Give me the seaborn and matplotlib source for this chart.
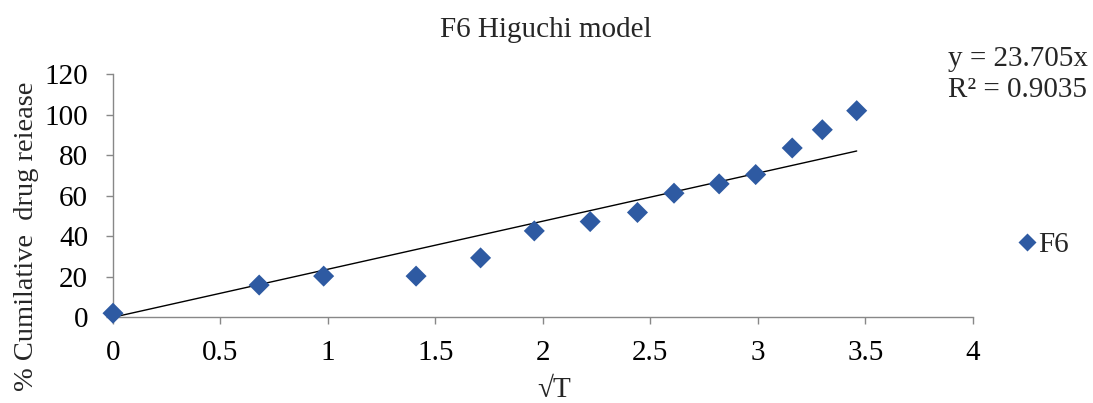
import matplotlib
matplotlib.use("Agg")
import matplotlib.pyplot as plt
import seaborn as sns
import numpy as np
import pandas as pd

# Data
sqrt_t = [0.0, 0.68, 0.98, 1.41, 1.71, 1.96, 2.22, 2.44, 2.61, 2.82, 2.99, 3.16, 3.30, 3.46]
release = [2.0, 15.9, 20.3, 20.3, 29.3, 42.6, 47.2, 51.7, 61.2, 65.8, 70.4, 83.5, 92.5, 101.9]
series_name = "F6"
slope = 23.705
r_squared = 0.9035
x_ticks = [0, 0.5, 1, 1.5, 2, 2.5, 3, 3.5, 4]
x_tick_labels = ["0", "0.5", "1", "1.5", "2", "2.5", "3", "3.5", "4"]
y_ticks = [0, 20, 40, 60, 80, 100, 120]

sns.set_theme(style="white")
plt.rcParams["font.family"] = ["Liberation Serif", "DejaVu Serif"]

FS = 21

df = pd.DataFrame({"x": sqrt_t, "y": release, "series": series_name})

fig = plt.figure(figsize=(10.93, 4.03), dpi=100)
ax = fig.add_axes([0.1034, 0.2127, 0.7866, 0.6037])

sns.scatterplot(data=df, x="x", y="y", hue="series", palette=["#2E5AA2"],
                marker="D", s=115, edgecolor="none", ax=ax, zorder=3,
                clip_on=False)

xs = np.array([0.0, max(sqrt_t)])
ax.plot(xs, slope * xs, color="black", lw=1.0, zorder=2)

ax.set_xlim(0, 4)
ax.set_ylim(0, 120)
ax.set_xticks(x_ticks)
ax.set_xticklabels(x_tick_labels)
ax.set_yticks(y_ticks)
ax.tick_params(axis="both", labelsize=FS, colors="black", length=5, width=1,
               direction="out", bottom=True, left=True)
ax.tick_params(axis="x", pad=11, color="#888888")
ax.tick_params(axis="y", pad=13, color="#888888")
for side in ["top", "right"]:
    ax.spines[side].set_visible(False)
for side in ["left", "bottom"]:
    ax.spines[side].set_color("#888888")
    ax.spines[side].set_linewidth(1)

ax.set_xlabel("\u221aT", fontsize=FS)
ax.xaxis.set_label_coords(0.513, -0.245)
ax.set_ylabel("% Cumilative  drug reiease", fontsize=FS - 0.5)
ax.yaxis.set_label_coords(-0.086, 0.334)
fig.text(0.499, 0.925, "F6 Higuchi model", ha="center", va="center", fontsize=FS)

fig.text(0.867, 0.853, f"y = {slope}x", ha="left", va="center", fontsize=FS)
fig.text(0.867, 0.777, f"R\u00b2 = {r_squared}", ha="left", va="center", fontsize=FS)

ax.legend(loc="center left", bbox_to_anchor=(1.049, 0.299), frameon=False,
          fontsize=FS, handletextpad=0.0, handlelength=0.8, borderpad=0,
          borderaxespad=0, markerscale=0.9)

fig.savefig("out.png", dpi=100)
